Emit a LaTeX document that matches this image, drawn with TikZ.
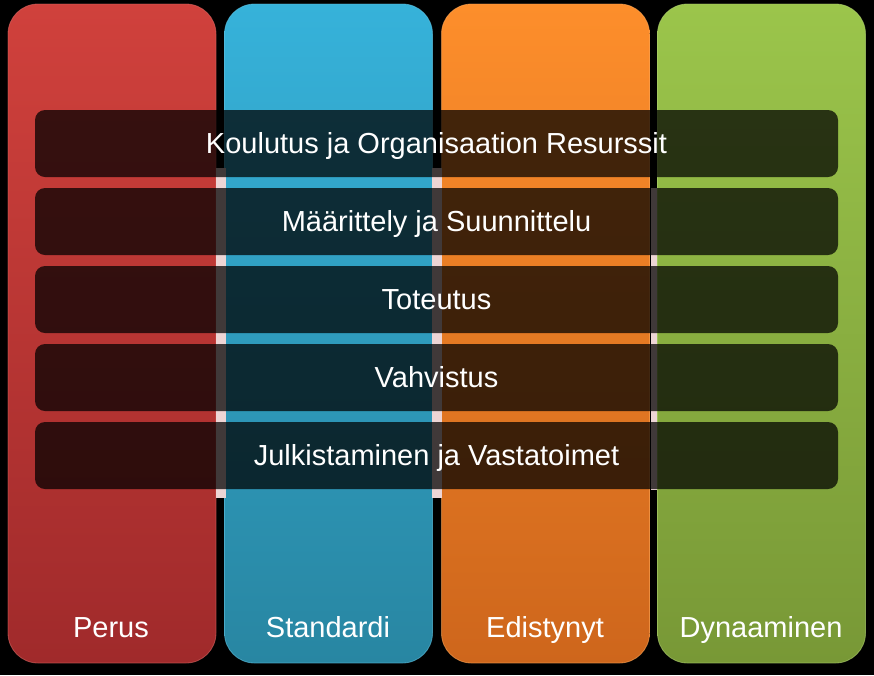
\documentclass[tikz,border=0pt]{standalone}
\usepackage{fontspec}
\setmainfont{Liberation Sans}
\begin{document}
\begin{tikzpicture}[x=1pt,y=-1pt,
  colbox/.style={rounded corners=30pt, minimum width=208pt, minimum height=659pt, inner sep=0pt, line width=0.8pt, draw opacity=0.6},
  barbox/.style={rounded corners=10pt, fill=black, fill opacity=0.73, minimum width=803pt, minimum height=67pt, inner sep=0pt},
  gapglow/.style={fill=glow, draw=none, minimum width=10pt, inner sep=0pt},
  lbl/.style={text=white, font=\fontsize{29}{31}\selectfont, inner sep=0pt, anchor=base}
]
\definecolor{redT}{HTML}{D0413C}\definecolor{redB}{HTML}{A02A2B}
\definecolor{bluT}{HTML}{36B2DA}\definecolor{bluB}{HTML}{2886A2}
\definecolor{orT}{HTML}{FD8E2B}\definecolor{orB}{HTML}{CE661C}
\definecolor{grT}{HTML}{9BC54B}\definecolor{grB}{HTML}{789836}
\definecolor{glow}{HTML}{EDD5D5}
\fill[black] (0,0) rectangle (874,675);
\useasboundingbox (0,0) rectangle (874,675);
% columns
\node[colbox, top color=redT, bottom color=redB, draw=redT!80!white] (c1) at (112,333.5) {};
\node[colbox, top color=bluT, bottom color=bluB, draw=bluT!80!white] (c2) at (328.5,333.5) {};
\node[colbox, top color=orT, bottom color=orB, draw=orT!80!white] (c3) at (545.5,333.5) {};
\node[colbox, top color=grT, bottom color=grB, draw=grT!80!white] (c4) at (761.5,333.5) {};
% glow in gaps
\node[gapglow, minimum height=330pt] (g1) at (220.5,333) {};
\node[gapglow, minimum height=330pt] (g2) at (437,333) {};
\node[gapglow, minimum width=6pt, minimum height=302pt] (g3) at (653.5,339) {};
% column labels
\node[lbl] (l1) at (111,637) {Perus};
\node[lbl] (l2) at (328,637) {Standardi};
\node[lbl] (l3) at (545,637) {Edistynyt};
\node[lbl] (l4) at (761,637) {Dynaaminen};
% bars
\node[barbox] (b1) at (436.5,143.5) {};
\node[barbox] (b2) at (436.5,221.5) {};
\node[barbox] (b3) at (436.5,299.5) {};
\node[barbox] (b4) at (436.5,377.5) {};
\node[barbox] (b5) at (436.5,455.5) {};
\node[lbl] (t1) at (436.5,153) {Koulutus ja Organisaation Resurssit};
\node[lbl] (t2) at (436.5,231) {Määrittely ja Suunnittelu};
\node[lbl] (t3) at (436.5,309) {Toteutus};
\node[lbl] (t4) at (436.5,387) {Vahvistus};
\node[lbl] (t5) at (436.5,465) {Julkistaminen ja Vastatoimet};
\end{tikzpicture}
\end{document}
